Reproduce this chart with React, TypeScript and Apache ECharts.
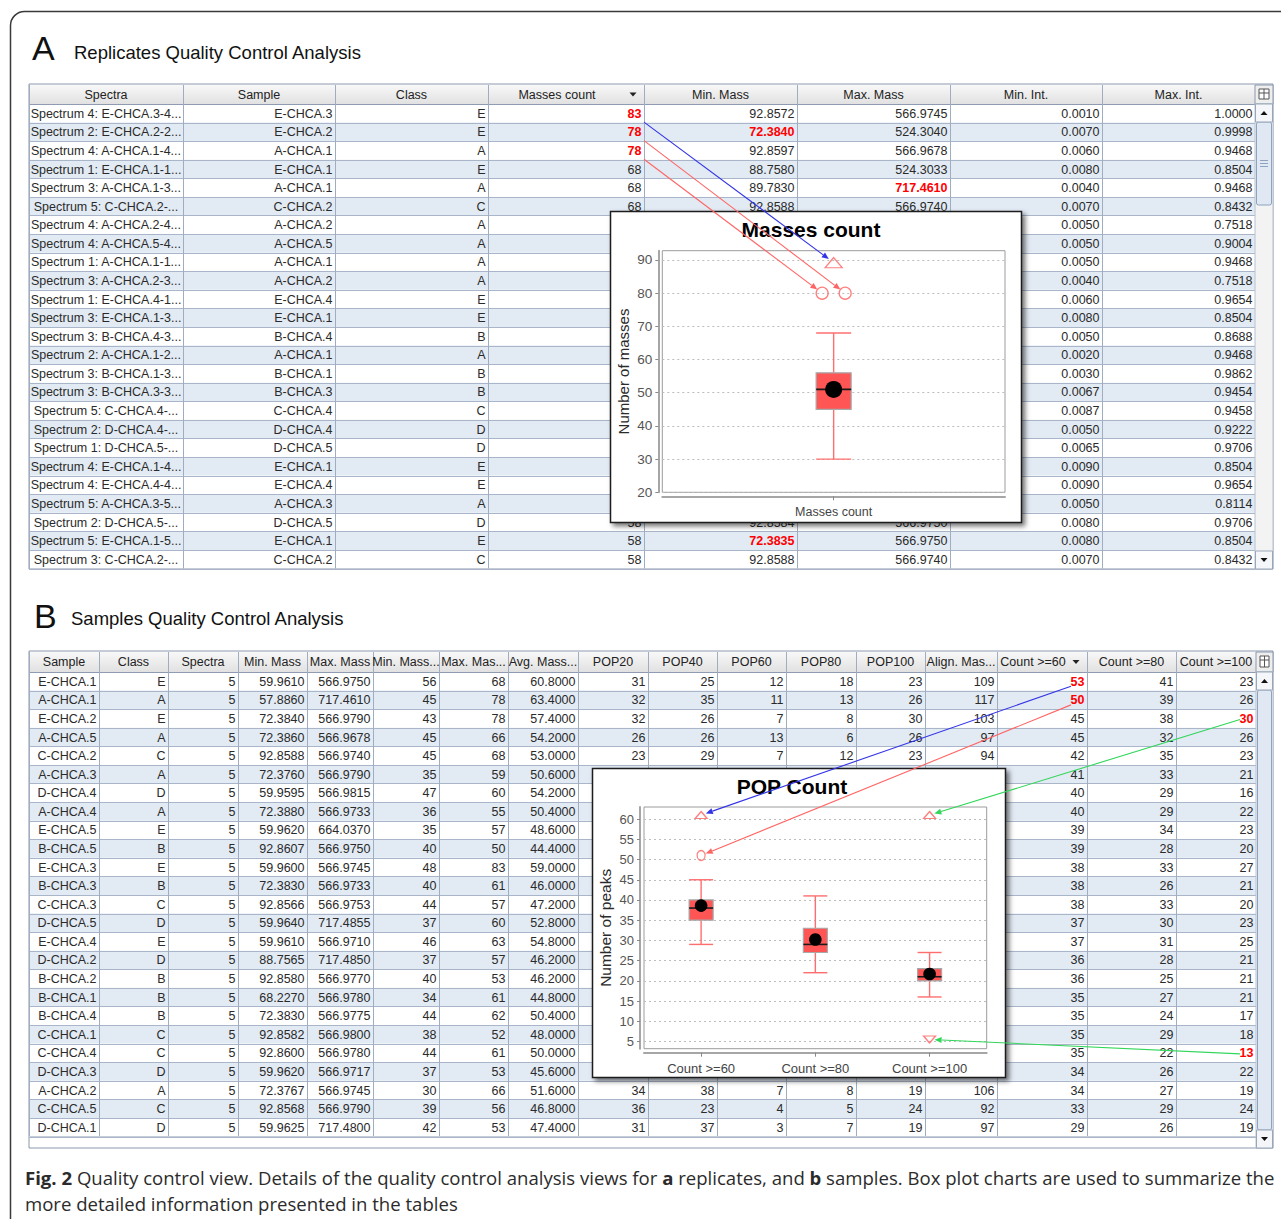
import React, { useEffect, useRef } from 'react';
import * as echarts from 'echarts';

// ================= DATA: panel A (replicates table) =================
const headersA = ['Spectra', 'Sample', 'Class', 'Masses count', 'Min. Mass', 'Max. Mass', 'Min. Int.', 'Max. Int.'];
const spectraA = [
  'Spectrum 4: E-CHCA.3-4...', 'Spectrum 2: E-CHCA.2-2...', 'Spectrum 4: A-CHCA.1-4...',
  'Spectrum 1: E-CHCA.1-1...', 'Spectrum 3: A-CHCA.1-3...', 'Spectrum 5: C-CHCA.2-...',
  'Spectrum 4: A-CHCA.2-4...', 'Spectrum 4: A-CHCA.5-4...', 'Spectrum 1: A-CHCA.1-1...',
  'Spectrum 3: A-CHCA.2-3...', 'Spectrum 1: E-CHCA.4-1...', 'Spectrum 3: E-CHCA.1-3...',
  'Spectrum 3: B-CHCA.4-3...', 'Spectrum 2: A-CHCA.1-2...', 'Spectrum 3: B-CHCA.1-3...',
  'Spectrum 3: B-CHCA.3-3...', 'Spectrum 5: C-CHCA.4-...', 'Spectrum 2: D-CHCA.4-...',
  'Spectrum 1: D-CHCA.5-...', 'Spectrum 4: E-CHCA.1-4...', 'Spectrum 4: E-CHCA.4-4...',
  'Spectrum 5: A-CHCA.3-5...', 'Spectrum 2: D-CHCA.5-...', 'Spectrum 5: E-CHCA.1-5...',
  'Spectrum 3: C-CHCA.2-...',
];
const sampleA = ['E-CHCA.3', 'E-CHCA.2', 'A-CHCA.1', 'E-CHCA.1', 'A-CHCA.1', 'C-CHCA.2', 'A-CHCA.2', 'A-CHCA.5', 'A-CHCA.1', 'A-CHCA.2', 'E-CHCA.4', 'E-CHCA.1', 'B-CHCA.4', 'A-CHCA.1', 'B-CHCA.1', 'B-CHCA.3', 'C-CHCA.4', 'D-CHCA.4', 'D-CHCA.5', 'E-CHCA.1', 'E-CHCA.4', 'A-CHCA.3', 'D-CHCA.5', 'E-CHCA.1', 'C-CHCA.2'];
const classA = ['E', 'E', 'A', 'E', 'A', 'C', 'A', 'A', 'A', 'A', 'E', 'E', 'B', 'A', 'B', 'B', 'C', 'D', 'D', 'E', 'E', 'A', 'D', 'E', 'C'];
// null = hidden under the chart pop-up in the original screenshot
const massesCountA = [83, 78, 78, 68, 68, 68, null, null, null, null, null, null, null, null, null, null, null, null, null, null, null, null, 58, 58, 58];
const minMassA = [92.8572, 72.384, 92.8597, 88.758, 89.783, 92.8588, null, null, null, null, null, null, null, null, null, null, null, null, null, null, null, null, 92.8584, 72.3835, 92.8588];
const maxMassA = [566.9745, 524.304, 566.9678, 524.3033, 717.461, 566.974, null, null, null, null, null, null, null, null, null, null, null, null, null, null, null, null, 566.975, 566.975, 566.974];
const minIntA = [0.001, 0.007, 0.006, 0.008, 0.004, 0.007, 0.005, 0.005, 0.005, 0.004, 0.006, 0.008, 0.005, 0.002, 0.003, 0.0067, 0.0087, 0.005, 0.0065, 0.009, 0.009, 0.005, 0.008, 0.008, 0.007];
const maxIntA = [1.0, 0.9998, 0.9468, 0.8504, 0.9468, 0.8432, 0.7518, 0.9004, 0.9468, 0.7518, 0.9654, 0.8504, 0.8688, 0.9468, 0.9862, 0.9454, 0.9458, 0.9222, 0.9706, 0.8504, 0.9654, 0.8114, 0.9706, 0.8504, 0.8432];
const redCellsA = [[0, 3], [1, 3], [2, 3], [1, 4], [4, 5], [23, 4]];

// ================= DATA: panel B (samples table) =================
const headersB = ['Sample', 'Class', 'Spectra', 'Min. Mass', 'Max. Mass', 'Min. Mass...', 'Max. Mas...', 'Avg. Mass...', 'POP20', 'POP40', 'POP60', 'POP80', 'POP100', 'Align. Mas...', 'Count >=60', 'Count >=80', 'Count >=100'];
const sampleB = ['E-CHCA.1', 'A-CHCA.1', 'E-CHCA.2', 'A-CHCA.5', 'C-CHCA.2', 'A-CHCA.3', 'D-CHCA.4', 'A-CHCA.4', 'E-CHCA.5', 'B-CHCA.5', 'E-CHCA.3', 'B-CHCA.3', 'C-CHCA.3', 'D-CHCA.5', 'E-CHCA.4', 'D-CHCA.2', 'B-CHCA.2', 'B-CHCA.1', 'B-CHCA.4', 'C-CHCA.1', 'C-CHCA.4', 'D-CHCA.3', 'A-CHCA.2', 'C-CHCA.5', 'D-CHCA.1'];
const classB = ['E', 'A', 'E', 'A', 'C', 'A', 'D', 'A', 'E', 'B', 'E', 'B', 'C', 'D', 'E', 'D', 'B', 'B', 'B', 'C', 'C', 'D', 'A', 'C', 'D'];
const spectraB = [5, 5, 5, 5, 5, 5, 5, 5, 5, 5, 5, 5, 5, 5, 5, 5, 5, 5, 5, 5, 5, 5, 5, 5, 5];
const minMassB = [59.961, 57.886, 72.384, 72.386, 92.8588, 72.376, 59.9595, 72.388, 59.962, 92.8607, 59.96, 72.383, 92.8566, 59.964, 59.961, 88.7565, 92.858, 68.227, 72.383, 92.8582, 92.86, 59.962, 72.3767, 92.8568, 59.9625];
const maxMassB = [566.975, 717.461, 566.979, 566.9678, 566.974, 566.979, 566.9815, 566.9733, 664.037, 566.975, 566.9745, 566.9733, 566.9753, 717.4855, 566.971, 717.485, 566.977, 566.978, 566.9775, 566.98, 566.978, 566.9717, 566.9745, 566.979, 717.48];
const minMassCountB = [56, 45, 43, 45, 45, 35, 47, 36, 35, 40, 48, 40, 44, 37, 46, 37, 40, 34, 44, 38, 44, 37, 30, 39, 42];
const maxMassCountB = [68, 78, 78, 66, 68, 59, 60, 55, 57, 50, 83, 61, 57, 60, 63, 57, 53, 61, 62, 52, 61, 53, 66, 56, 53];
const avgMassB = [60.8, 63.4, 57.4, 54.2, 53.0, 50.6, 54.2, 50.4, 48.6, 44.4, 59.0, 46.0, 47.2, 52.8, 54.8, 46.2, 46.2, 44.8, 50.4, 48.0, 50.0, 45.6, 51.6, 46.8, 47.4];
const pop20B = [31, 32, 32, 26, 23, null, null, null, null, null, null, null, null, null, null, null, null, null, null, null, null, null, 34, 36, 31];
const pop40B = [25, 35, 26, 26, 29, null, null, null, null, null, null, null, null, null, null, null, null, null, null, null, null, null, 38, 23, 37];
const pop60B = [12, 11, 7, 13, 7, null, null, null, null, null, null, null, null, null, null, null, null, null, null, null, null, null, 7, 4, 3];
const pop80B = [18, 13, 8, 6, 12, null, null, null, null, null, null, null, null, null, null, null, null, null, null, null, null, null, 8, 5, 7];
const pop100B = [23, 26, 30, 26, 23, null, null, null, null, null, null, null, null, null, null, null, null, null, null, null, null, null, 19, 24, 19];
const alignB = [109, 117, 103, 97, 94, null, null, null, null, null, null, null, null, null, null, null, null, null, null, null, null, null, 106, 92, 97];
const count60B = [53, 50, 45, 45, 42, 41, 40, 40, 39, 39, 38, 38, 38, 37, 37, 36, 36, 35, 35, 35, 35, 34, 34, 33, 29];
const count80B = [41, 39, 38, 32, 35, 33, 29, 29, 34, 28, 33, 26, 33, 30, 31, 28, 25, 27, 24, 29, 22, 26, 27, 29, 26];
const count100B = [23, 26, 30, 26, 23, 21, 16, 22, 23, 20, 27, 21, 20, 23, 25, 21, 21, 21, 17, 18, 13, 22, 19, 24, 19];
const redCellsB = [[0, 14], [1, 14], [2, 16], [20, 16]];

// ================= DATA: box plots =================
const catA = ['Masses count'];
const statsA = [[30, 45, 51, 56, 68]]; // min, Q1, median, Q3, max
const meanA = [51];
const outliersA = [
  { cat: 0, value: 89.2, shape: 'triangle' },
  { cat: 0, value: 80, shape: 'circle' },
  { cat: 0, value: 80, shape: 'circle' },
];
const yTicksA = [20, 30, 40, 50, 60, 70, 80, 90];
const yRangeA = [20, 92.8];

const catB = ['Count >=60', 'Count >=80', 'Count >=100'];
const statsB = [[29, 35, 38, 40, 45], [22, 27, 29, 33, 41], [16, 20, 21, 23, 27]];
const meanB = [38.6, 30.2, 21.7];
const outliersB = [
  { cat: 0, value: 61, shape: 'triangle' },
  { cat: 0, value: 51, shape: 'circle' },
  { cat: 2, value: 61, shape: 'triangle' },
  { cat: 2, value: 5.5, shape: 'triangleDown' },
];
const yTicksB = [5, 10, 15, 20, 25, 30, 35, 40, 45, 50, 55, 60];
const yRangeB = [3.2, 63.0];

// arrows: table cell -> outlier marker
const linksA = [
  { row: 0, outlier: 0, color: '#3434e6' },
  { row: 1, outlier: 2, color: '#ff6464' },
  { row: 2, outlier: 1, color: '#ff6464' },
];
const linksB = [
  { row: 0, col: 14, outlier: 0, color: '#3434e6' },
  { row: 1, col: 14, outlier: 1, color: '#ff6464' },
  { row: 2, col: 16, outlier: 2, color: '#33d65a' },
  { row: 20, col: 16, outlier: 3, color: '#33d65a' },
];

const captionLine1: [string, boolean][] = [
  ['Fig. 2', true],
  ['\u00a0Quality control view. Details of the quality control analysis views for\u00a0', false],
  ['a', true],
  ['\u00a0replicates, and\u00a0', false],
  ['b', true],
  ['\u00a0samples. Box plot charts are used to summarize the', false],
];
const captionLine2 = 'more detailed information presented in the tables';

// ================= LAYOUT =================
const FT = '"Liberation Sans", Arial, sans-serif';
const TABLE_FONT = `12.5px ${FT}`;
const ROW_H = 18.58;
const A_COLS = [29, 183, 335, 488, 644, 797, 950, 1102, 1255];
const A_TOP = 85, A_HEAD = 19, A_BOTTOM = 569;
const B_COLS = [29, 99, 168, 238, 307, 373, 439, 508, 578, 648, 717, 786, 856, 925, 997, 1087, 1176, 1256];
const B_TOP = 652, B_HEAD = 20, B_BOTTOM = 1148;
const SCROLL_R = 1273;
const POP_A = { x: 610, y: 211, w: 411, h: 311 };
const POP_B = { x: 592, y: 768, w: 413, h: 309 };
const GRID_A = { left: 662.3, top: 250.7, width: 342.7, height: 241.6 };
const GRID_B = { left: 644, top: 807, width: 342.7, height: 241.7 };
const BOX_W = [35, 24];
const MEAN_R = [8.5, 6.3];
const OUT_OFFSET_A = [0, -11.5, 11.5];
const OUT_OFFSET_B = [0, 0, 0, 0];
const SYM_SIZE: Record<string, number[][]> = {
  triangle: [[17, 10], [12, 7]],
  circle: [[12, 12], [8, 10]],
  triangleDown: [[17, 10], [12, 7]],
};
const TIP_GAP = [6, 5];

const f4 = (v: number | null) => (v == null ? '' : v.toFixed(4));
const fi = (v: number | null) => (v == null ? '' : String(v));

function rect(x: number, y: number, w: number, h: number, style: any, z: number, extra: any = {}) {
  return { type: 'rect', silent: true, z, shape: { x, y, width: w, height: h, ...(extra.r ? { r: extra.r } : {}) }, style };
}
function line(x1: number, y1: number, x2: number, y2: number, stroke: string, z: number, lw = 1) {
  return { type: 'line', silent: true, z, shape: { x1, y1, x2, y2 }, style: { stroke, lineWidth: lw } };
}
function text(x: number, y: number, t: string, font: string, fill: string, align: string, z: number, extra: any = {}) {
  return {
    type: 'text', silent: true, z,
    style: { x, y, text: t, font, fill, align, textAlign: align, verticalAlign: 'middle', textVerticalAlign: 'middle', ...extra },
  };
}
function tri(cx: number, cy: number, up: boolean, z: number, w = 7, h = 4, fill = '#222') {
  const pts = up
    ? [[cx - w / 2, cy + h / 2], [cx + w / 2, cy + h / 2], [cx, cy - h / 2]]
    : [[cx - w / 2, cy - h / 2], [cx + w / 2, cy - h / 2], [cx, cy + h / 2]];
  return { type: 'polygon', silent: true, z, shape: { points: pts }, style: { fill } };
}

function buildTable(cols: number[], top: number, headH: number, bottom: number, headers: string[], cells: string[][], aligns: string[], red: number[][], sortCol: number) {
  const els: any[] = [];
  const left = cols[0];
  const right = cols[cols.length - 1];
  const bodyTop = top + headH;
  const n = cells.length;
  const bodyBottom = bodyTop + n * ROW_H;
  const redSet = new Set(red.map(([r, c]) => `${r}_${c}`));
  els.push(rect(left, top - 1, SCROLL_R - left, bottom - top + 1, { fill: '#ffffff', stroke: '#8a98ae', lineWidth: 1 }, 0));
  els.push(rect(left, top, right - left, headH, {
    fill: new echarts.graphic.LinearGradient(0, 0, 0, 1, [{ offset: 0, color: '#f8f8f8' }, { offset: 1, color: '#e1e1e1' }]),
  }, 0));
  for (let i = 0; i < n; i++) {
    if (i % 2 === 1) els.push(rect(left, bodyTop + i * ROW_H, right - left, ROW_H, { fill: '#e2eaf4' }, 0));
  }
  els.push(line(left, bodyTop + 0.5, right, bodyTop + 0.5, '#8e9bb0', 1));
  for (let i = 1; i <= n; i++) {
    const y = Math.round(bodyTop + i * ROW_H) + 0.5;
    els.push(line(left, y, right, y, '#a9b6c9', 1));
  }
  cols.forEach((c) => els.push(line(c + 0.5, top, c + 0.5, bodyBottom, '#a0adc0', 1)));
  headers.forEach((h, j) => {
    const cx = (cols[j] + cols[j + 1]) / 2;
    if (j === sortCol) {
      els.push(text(cx - 9, top + headH / 2, h, TABLE_FONT, '#222', 'center', 2));
      els.push(tri(cols[j + 1] - 11, top + headH / 2, false, 2));
    } else {
      els.push(text(cx, top + headH / 2, h, TABLE_FONT, '#222', 'center', 2));
    }
  });
  cells.forEach((row, i) => {
    const cy = bodyTop + (i + 0.5) * ROW_H;
    row.forEach((v, j) => {
      if (!v) return;
      const isRed = redSet.has(`${i}_${j}`);
      const a = aligns[j];
      const x = a === 'center' ? (cols[j] + cols[j + 1]) / 2 : cols[j + 1] - 2.5;
      els.push(text(x, cy + 0.5, v, isRed ? `bold ${TABLE_FONT}` : TABLE_FONT, isRed ? '#ff0000' : '#2a2a2a', a, 2));
    });
  });
  return els;
}

function scrollbar(x: number, w: number, top: number, headH: number, bottom: number, thumbTop: number, thumbBottom: number, grip: boolean) {
  const els: any[] = [];
  const bodyTop = top + headH;
  // header corner icon
  els.push(rect(x, top, w, headH, { fill: '#eeeeee', stroke: '#8a98ae', lineWidth: 1 }, 2));
  els.push(rect(x + 4, top + 4, w - 8, headH - 9, { fill: '#fff', stroke: '#555', lineWidth: 1 }, 2));
  els.push(line(x + 4, top + 8, x + w - 4, top + 8, '#555', 2));
  els.push(line(x + w / 2, top + 4, x + w / 2, top + headH - 5, '#555', 2));
  // track
  els.push(rect(x, bodyTop, w, bottom - bodyTop, { fill: '#f3f3f3', stroke: '#b8c2d0', lineWidth: 1 }, 2));
  // thumb
  els.push(rect(x + 1.5, thumbTop, w - 3, thumbBottom - thumbTop, { fill: '#dfe8f3', stroke: '#8ea3bf', lineWidth: 1 }, 2, { r: 2 }));
  if (grip) {
    const gy = (thumbTop + thumbBottom) / 2;
    [-3, 0, 3].forEach((d) => els.push(line(x + 5, gy + d, x + w - 5, gy + d, '#8ea3bf', 2)));
  }
  // buttons
  els.push(rect(x + 0.5, bodyTop, w - 1, 18, { fill: '#f4f6f9', stroke: '#9aa7b8', lineWidth: 1 }, 2));
  els.push(tri(x + w / 2, bodyTop + 9, true, 2, 7, 4, '#111'));
  els.push(rect(x + 0.5, bottom - 18, w - 1, 18, { fill: '#f4f6f9', stroke: '#9aa7b8', lineWidth: 1 }, 2));
  els.push(tri(x + w / 2, bottom - 9, false, 2, 7, 4, '#111'));
  return els;
}

function captionFontSize(): number {
  const ctx = document.createElement('canvas').getContext('2d');
  if (!ctx) return 16.5;
  let w = 0;
  for (const [t, b] of captionLine1) {
    ctx.font = `${b ? 'bold ' : ''}100px "Open Sans"`;
    w += ctx.measureText(t).width;
  }
  return Math.min(19, (100 * 1250) / w);
}

function baseGraphics(): any[] {
  const els: any[] = [];
  // figure frame
  els.push(rect(10.5, 11.5, 1500, 1500, { fill: 'none', stroke: '#3a3a3a', lineWidth: 1.5 }, 0, { r: 14 }));
  // titles
  els.push(text(32, 47.5, 'A', `34px ${FT}`, '#111', 'left', 2));
  els.push(text(74, 52, 'Replicates Quality Control Analysis', `18.5px ${FT}`, '#111', 'left', 2));
  els.push(text(34, 616, 'B', `34px ${FT}`, '#111', 'left', 2));
  els.push(text(71, 618.5, 'Samples Quality Control Analysis', `18.5px ${FT}`, '#111', 'left', 2));

  // table A
  const cellsA = spectraA.map((s, i) => [s, sampleA[i], classA[i], fi(massesCountA[i]), f4(minMassA[i]), f4(maxMassA[i]), f4(minIntA[i]), f4(maxIntA[i])]);
  els.push(...buildTable(A_COLS, A_TOP, A_HEAD, A_BOTTOM, headersA, cellsA, ['center', 'right', 'right', 'right', 'right', 'right', 'right', 'right'], redCellsA, 3));
  els.push(...scrollbar(A_COLS[A_COLS.length - 1], SCROLL_R - A_COLS[A_COLS.length - 1], A_TOP, A_HEAD, A_BOTTOM, A_TOP + A_HEAD + 18, A_TOP + A_HEAD + 101, true));

  // table B
  const cellsB = sampleB.map((s, i) => [s, classB[i], fi(spectraB[i]), f4(minMassB[i]), f4(maxMassB[i]), fi(minMassCountB[i]), fi(maxMassCountB[i]), f4(avgMassB[i]), fi(pop20B[i]), fi(pop40B[i]), fi(pop60B[i]), fi(pop80B[i]), fi(pop100B[i]), fi(alignB[i]), fi(count60B[i]), fi(count80B[i]), fi(count100B[i])]);
  els.push(...buildTable(B_COLS, B_TOP, B_HEAD, B_BOTTOM, headersB, cellsB, headersB.map(() => 'right'), redCellsB, 14));
  els.push(...scrollbar(B_COLS[B_COLS.length - 1], SCROLL_R - B_COLS[B_COLS.length - 1], B_TOP, B_HEAD, B_BOTTOM, B_TOP + B_HEAD + 18, B_BOTTOM - 18, false));
  els.push(line(B_COLS[0], B_BOTTOM - 11.5, B_COLS[B_COLS.length - 1], B_BOTTOM - 11.5, '#c5cdd8', 1));

  // pop-up chart windows
  [POP_A, POP_B].forEach((p) => {
    els.push(rect(p.x + 0.5, p.y + 0.5, p.w, p.h, {
      fill: '#ffffff', stroke: '#1a1a1a', lineWidth: 1.5,
      shadowBlur: 5, shadowOffsetX: 3, shadowOffsetY: 3, shadowColor: 'rgba(0,0,0,0.55)',
    }, 4));
  });
  els.push(text(POP_A.x + 201, 229.5, 'Masses count', `bold 21px ${FT}`, '#000', 'center', 7));
  els.push(text(POP_B.x + 200, 786, 'POP Count', `bold 21px ${FT}`, '#000', 'center', 7));

  // caption
  const fs = captionFontSize();
  const rich: any = {
    b: { fontFamily: 'Open Sans', fontSize: fs, fontWeight: 'bold', fill: '#2b2b2b' },
    n: { fontFamily: 'Open Sans', fontSize: fs, fontWeight: 'normal', fill: '#2b2b2b' },
  };
  const capText = captionLine1.map(([t, b]) => `{${b ? 'b' : 'n'}|${t}}`).join('');
  els.push(text(25, 1177, capText, `${fs}px "Open Sans"`, '#2b2b2b', 'left', 2, { rich }));
  els.push(text(25, 1203, captionLine2, `${fs}px "Open Sans"`, '#2b2b2b', 'left', 2));
  return els;
}

function boxRenderer(idx: number) {
  return (params: any, api: any) => {
    const c = api.value(0);
    const lo = api.coord([c, api.value(1)]);
    const q1 = api.coord([c, api.value(2)]);
    const md = api.coord([c, api.value(3)]);
    const q3 = api.coord([c, api.value(4)]);
    const hi = api.coord([c, api.value(5)]);
    const mn = api.coord([c, api.value(6)]);
    const x = lo[0];
    const hw = BOX_W[idx] / 2;
    const ws = { stroke: '#ff6e6e', lineWidth: 1.4 };
    return {
      type: 'group',
      children: [
        { type: 'line', shape: { x1: x, y1: hi[1], x2: x, y2: q3[1] }, style: ws },
        { type: 'line', shape: { x1: x, y1: q1[1], x2: x, y2: lo[1] }, style: ws },
        { type: 'line', shape: { x1: x - hw, y1: hi[1], x2: x + hw, y2: hi[1] }, style: ws },
        { type: 'line', shape: { x1: x - hw, y1: lo[1], x2: x + hw, y2: lo[1] }, style: ws },
        { type: 'rect', shape: { x: x - hw, y: q3[1], width: hw * 2, height: q1[1] - q3[1] }, style: { fill: '#ff5555', stroke: '#a8a8a8', lineWidth: 1.2 } },
        { type: 'line', shape: { x1: x - hw, y1: md[1], x2: x + hw, y2: md[1] }, style: { stroke: '#1a1a1a', lineWidth: 1.6 } },
        { type: 'circle', shape: { cx: x, cy: mn[1], r: MEAN_R[idx] }, style: { fill: '#000' } },
      ],
    };
  };
}

function outlierItems(list: any[], offsets: number[], idx: number) {
  return list.map((o, i) => ({
    value: [o.cat, o.value],
    symbol: o.shape === 'circle' ? 'circle' : 'triangle',
    symbolRotate: o.shape === 'triangleDown' ? 180 : 0,
    symbolSize: SYM_SIZE[o.shape][idx],
    symbolOffset: [offsets[i], 0],
  }));
}

function axisPair(gridIndex: number, cats: string[], ticks: number[], range: number[], name: string, labelSize: number, nameSize: number) {
  const x = {
    type: 'category', gridIndex, data: cats, offset: 4, z: 6,
    axisLine: { show: true, lineStyle: { color: '#a6a6a6', width: 2 } },
    axisTick: { show: true, alignWithLabel: true, length: 4, lineStyle: { color: '#888' } },
    axisLabel: { color: '#444', fontSize: gridIndex === 0 ? 12.5 : 13, fontFamily: FT, margin: 9 },
    splitLine: { show: false },
  };
  const y = {
    type: 'value', gridIndex, min: range[0], max: range[1], offset: 4, z: 6,
    splitNumber: gridIndex === 0 ? 7 : 12,
    axisLine: { show: true, lineStyle: { color: '#a6a6a6', width: 2 } },
    axisTick: { show: true, length: 3, lineStyle: { color: '#888' }, customValues: ticks },
    axisLabel: { color: '#555', fontSize: labelSize, fontFamily: FT, margin: 6, customValues: ticks },
    splitLine: { show: true, lineStyle: { color: '#bdbdbd', type: [2, 3], width: 1 } },
    name, nameLocation: 'middle', nameGap: 27, nameRotate: 90,
    nameTextStyle: { color: '#2a2a2a', fontSize: nameSize, fontFamily: FT },
  };
  return { x, y };
}

function buildOption(extra: any[] = []): any {
  const a = axisPair(0, catA, yTicksA, yRangeA, 'Number of masses', 13.5, 15);
  const b = axisPair(1, catB, yTicksB, yRangeB, 'Number of peaks', 13, 15.5);
  const scatterStyle = { color: 'rgba(255,255,255,0)', borderColor: '#ff5f5f', borderWidth: 1.3 };
  return {
    animation: false,
    backgroundColor: '#ffffff',
    grid: [
      { ...GRID_A, show: true, backgroundColor: '#fff', borderColor: '#9c9c9c', borderWidth: 1, z: 5 },
      { ...GRID_B, show: true, backgroundColor: '#fff', borderColor: '#9c9c9c', borderWidth: 1, z: 5 },
    ],
    xAxis: [a.x, b.x],
    yAxis: [a.y, b.y],
    series: [
      {
        type: 'custom', xAxisIndex: 0, yAxisIndex: 0, z: 7,
        renderItem: boxRenderer(0),
        encode: { x: 0, y: [1, 2, 3, 4, 5, 6] },
        data: statsA.map((s, i) => [i, ...s, meanA[i]]),
      },
      {
        type: 'scatter', xAxisIndex: 0, yAxisIndex: 0, z: 8,
        itemStyle: scatterStyle,
        data: outlierItems(outliersA, OUT_OFFSET_A, 0),
      },
      {
        type: 'custom', xAxisIndex: 1, yAxisIndex: 1, z: 7,
        renderItem: boxRenderer(1),
        encode: { x: 0, y: [1, 2, 3, 4, 5, 6] },
        data: statsB.map((s, i) => [i, ...s, meanB[i]]),
      },
      {
        type: 'scatter', xAxisIndex: 1, yAxisIndex: 1, z: 8,
        itemStyle: scatterStyle,
        data: outlierItems(outliersB, OUT_OFFSET_B, 1),
      },
    ],
    graphic: { elements: [...baseGraphics(), ...extra] },
  };
}

function arrow(x1: number, y1: number, x2: number, y2: number, color: string) {
  const dx = x2 - x1, dy = y2 - y1;
  const L = Math.hypot(dx, dy) || 1;
  const ux = dx / L, uy = dy / L;
  const hl = 7, hw = 3;
  const bx = x2 - ux * hl, by = y2 - uy * hl;
  return [
    { type: 'line', silent: true, z: 9, shape: { x1, y1, x2: bx, y2: by }, style: { stroke: color, lineWidth: 1.1 } },
    { type: 'polygon', silent: true, z: 9, shape: { points: [[x2, y2], [bx - uy * hw, by + ux * hw], [bx + uy * hw, by - ux * hw]] }, style: { fill: color } },
  ];
}

function buildArrows(chart: any): any[] {
  const els: any[] = [];
  const tip = (grid: number, o: any, off: number, sx: number, sy: number) => {
    const p = chart.convertToPixel({ gridIndex: grid }, [o.cat, o.value]);
    const cx = p[0] + off, cy = p[1];
    const dx = sx - cx, dy = sy - cy;
    const L = Math.hypot(dx, dy) || 1;
    return [cx + (dx / L) * TIP_GAP[grid], cy + (dy / L) * TIP_GAP[grid]];
  };
  linksA.forEach((l) => {
    const sx = A_COLS[4];
    const sy = A_TOP + A_HEAD + (l.row + 1) * ROW_H - 0.5;
    const [ex, ey] = tip(0, outliersA[l.outlier], OUT_OFFSET_A[l.outlier], sx, sy);
    els.push(...arrow(sx, sy, ex, ey, l.color));
  });
  linksB.forEach((l) => {
    const sx = B_COLS[l.col + 1] - 16;
    const sy = B_TOP + B_HEAD + (l.row + 0.5) * ROW_H + (l.col === 14 ? 5 : 1);
    const [ex, ey] = tip(1, outliersB[l.outlier], OUT_OFFSET_B[l.outlier], sx, sy);
    els.push(...arrow(sx, sy, ex, ey, l.color));
  });
  return els;
}

export default function App() {
  const ref = useRef<HTMLDivElement>(null);
  useEffect(() => {
    if (!ref.current) return;
    const chart = echarts.init(ref.current, undefined, { renderer: 'svg' });
    chart.setOption(buildOption());
    const arrows = buildArrows(chart);
    chart.setOption(buildOption(arrows), true);
    return () => chart.dispose();
  }, []);
  return (
    <div
      ref={ref}
      style={{ position: 'absolute', left: 0, top: 0, width: 1281, height: 1219, background: '#fff' }}
    />
  );
}
